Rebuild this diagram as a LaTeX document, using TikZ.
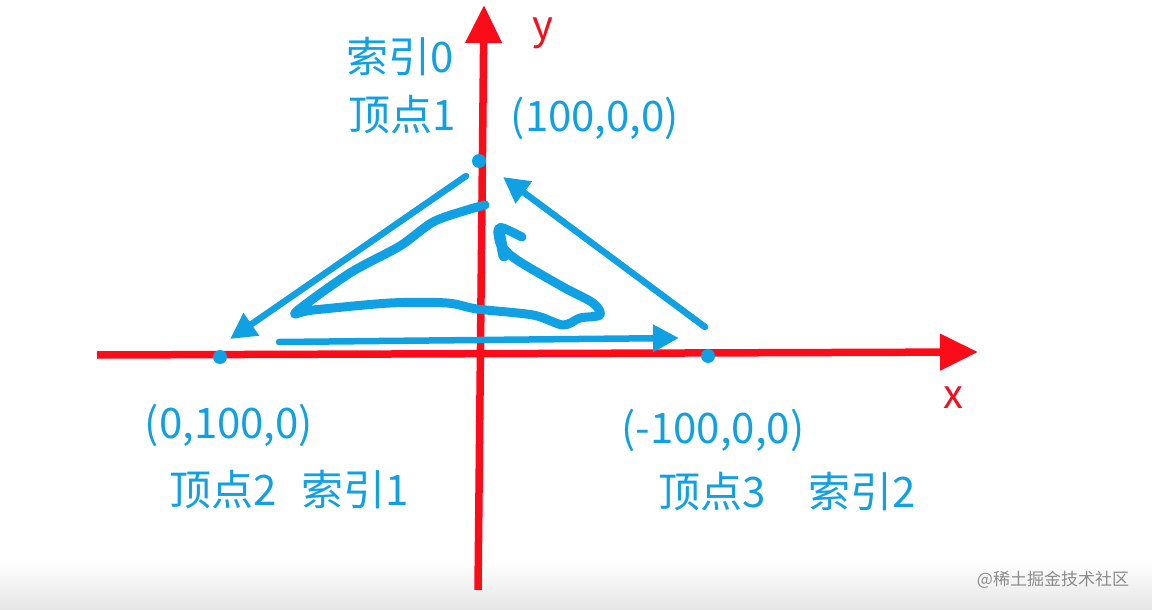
\documentclass[tikz,border=0pt]{standalone}
\usepackage{fontspec}
\newfontfamily\cjk{Noto Sans CJK SC}
\usetikzlibrary{arrows.meta}
\definecolor{axred}{RGB}{252,12,24}
\definecolor{lblue}{RGB}{16,160,228}
\tikzset{
  axis/.style={draw=axred, line width=7.5pt},
  blab/.style={text=lblue, font=\cjk\fontsize{42}{44}\selectfont, inner sep=0pt},
  rlab/.style={text=axred, font=\cjk\fontsize{40}{42}\selectfont, inner sep=0pt},
  dot/.style={circle, fill=lblue, minimum size=14pt, inner sep=0pt},
  barrow/.style={draw=lblue, line width=6.5pt, line cap=round, -{Triangle[length=26pt,width=26pt]}},
  scrib/.style={draw=lblue, line width=9pt, line cap=round, line join=round},
}
\begin{document}
\begin{tikzpicture}[x=1pt,y=-1pt]
\useasboundingbox (0,0) rectangle (1152,610);
\fill[white] (0,0) rectangle (1152,610);
\shade[top color=white, bottom color=black!10, draw=none] (0,560) rectangle (1152,610);
% axes
\coordinate (xs) at (97,355);
\coordinate (xe) at (978,352);
\coordinate (ys) at (478,590);
\coordinate (ye) at (484,5);
\draw[axis, -{Triangle[length=38pt,width=35pt]}] (xs) -- (xe);
\draw[axis, -{Triangle[length=38pt,width=35pt]}] (ys) -- (ye);
\node[rlab] (ylab) at (543,33) {y};
\node[rlab] (xlab) at (953,398) {x};
% vertices
\node[dot] (v1) at (479,161) {};
\node[dot] (v2) at (220,357) {};
\node[dot] (v3) at (708,356) {};
% labels
\node[blab] (i0) at (400,57) {索引0};
\node[blab] (p1) at (402,115) {顶点1};
\node[blab] (c1) at (595,118) {(100,0,0)};
\node[blab] (c2) at (229,425) {(0,100,0)};
\node[blab] (p2) at (223,490) {顶点2};
\node[blab] (i1) at (355,490) {索引1};
\node[blab] (c3) at (713,430) {(-100,0,0)};
\node[blab] (p3) at (712,492) {顶点3};
\node[blab] (i2) at (862,492) {索引2};
% arrows
\coordinate (a1s) at (466,176);
\coordinate (a1e) at (230,339);
\coordinate (a2s) at (279,342);
\coordinate (a2e) at (679,338);
\coordinate (a3s) at (705,327);
\coordinate (a3e) at (503,177);
\draw[barrow] (a1s) -- (a1e);
\draw[barrow] (a2s) -- (a2e);
\draw[barrow] (a3s) -- (a3e);
% hand-drawn loop
\draw[scrib] plot[smooth, tension=0.5] coordinates {(485,205) (467,210) (433,222) (400,246) (350,273) (296,312) (313,310) (390,303) (447,303) (477,309) (533,315) (563,325) (580,318) (600,315) (593,303) (563,287) (517,260) (501,245) (498,230) (503,228) (522,237)};
\draw[scrib, line width=11pt] (504,256) -- (499,232);
% watermark
\node[text=black!45, font=\cjk\fontsize{17}{18}\selectfont, inner sep=0pt] (wm) at (1053,580) {@稀土掘金技术社区};
\end{tikzpicture}
\end{document}
